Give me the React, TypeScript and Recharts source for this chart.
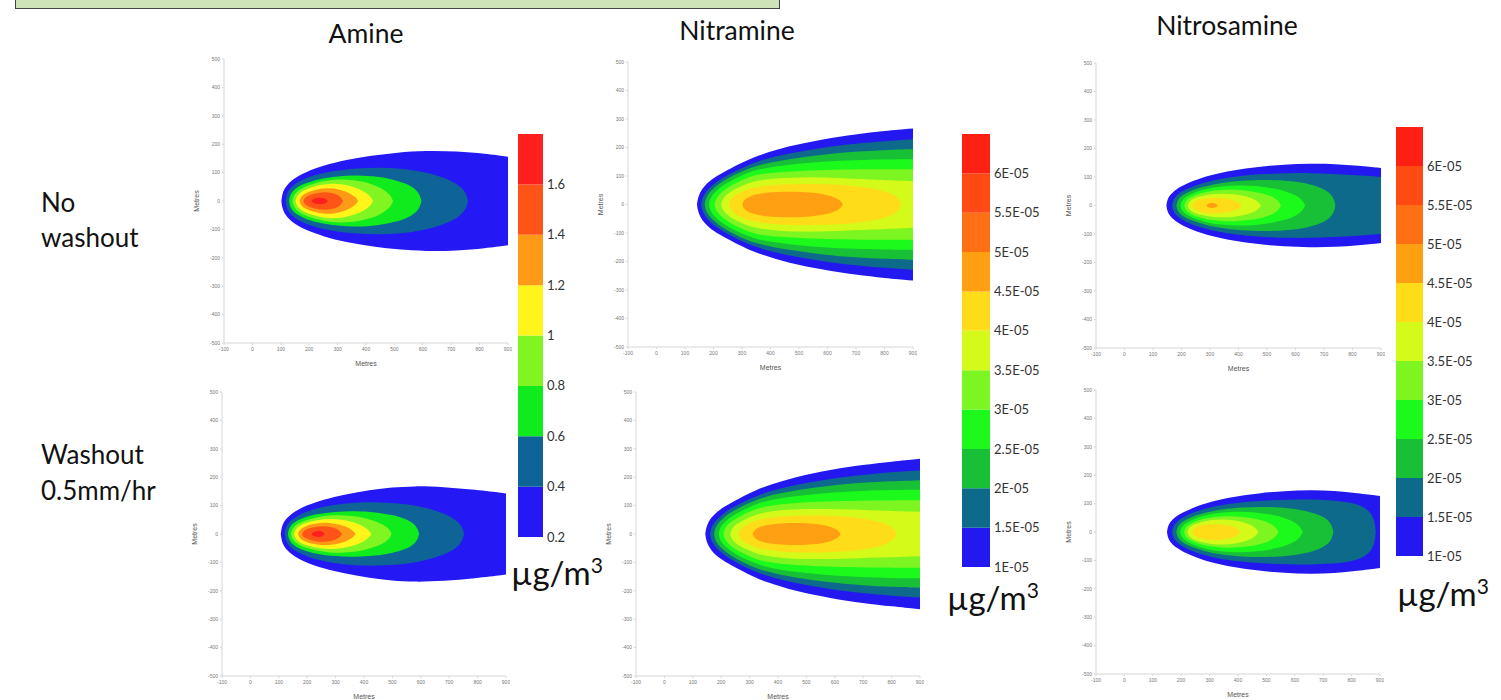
import React from 'react';
import { AreaChart, Area, XAxis, YAxis, ComposedChart, Bar } from 'recharts';

type Pt = [number, number];

// axis ticks (metres)
const xTicks = [-100, 0, 100, 200, 300, 400, 500, 600, 700, 800, 900];
const yTicks = [-500, -400, -300, -200, -100, 0, 100, 200, 300, 400, 500];

// colour scales
const amineLevels = [0.2, 0.4, 0.6, 0.8, 1.0, 1.2, 1.4, 1.6, 1.8];
const amineLabels = ['0.2', '0.4', '0.6', '0.8', '1', '1.2', '1.4', '1.6'];
const nitroLevels = [0.00001, 0.000015, 0.00002, 0.000025, 0.00003, 0.000035, 0.00004, 0.000045, 0.00005, 0.000055, 0.00006, 0.000065];
const nitroLabels = ['1E-05', '1.5E-05', '2E-05', '2.5E-05', '3E-05', '3.5E-05', '4E-05', '4.5E-05', '5E-05', '5.5E-05', '6E-05'];

const amineColors = ['#2418f5', '#0e6497', '#10eb1e', '#80f522', '#fff51a', '#ff9a16', '#ff5418', '#ff1f1f'];
const nitroColors = ['#2318f0', '#0e6a8a', '#18c036', '#1cfa1c', '#7cf520', '#d4fa1a', '#ffdc18', '#ffa012', '#ff7014', '#ff4a14', '#ff2014'];

// contour outlines: [distance downwind, half width], one list per level
const amineNoWash: Pt[][] = [
  [[102, 0], [105, 24], [112, 42], [125, 60], [150, 82], [190, 103], [250, 125], [330, 145], [420, 160], [510, 171], [610, 177], [720, 175], [820, 167], [900, 156]],
  [[117, 0], [120, 21], [127, 37], [140, 52], [165, 70], [210, 89], [280, 106], [370, 116], [460, 118], [540, 113], [610, 101], [670, 84], [715, 64], [742, 42], [755, 20], [759, 0]],
  [[129, 0], [132, 18], [139, 31], [152, 45], [180, 60], [230, 77], [300, 88], [370, 91], [440, 86], [500, 75], [545, 60], [575, 42], [590, 21], [595, 0]],
  [[141, 0], [144, 15], [151, 27], [164, 39], [190, 53], [230, 66], [280, 75], [330, 76], [380, 70], [420, 60], [455, 45], [478, 28], [490, 14], [495, 0]],
  [[152, 0], [155, 13], [162, 23], [175, 34], [200, 46], [240, 57], [280, 62], [320, 59], [355, 50], [385, 38], [405, 25], [418, 13], [425, 0]],
  [[166, 0], [169, 11], [176, 20], [190, 29], [215, 38], [250, 45], [285, 45], [315, 38], [340, 28], [358, 17], [368, 8], [372, 0]],
  [[180, 0], [183, 9], [191, 16], [205, 23], [230, 29], [255, 32], [280, 29], [300, 22], [312, 13], [319, 0]],
  [[208, 0], [212, 6], [222, 10], [237, 12], [252, 10], [261, 6], [266, 0]],
];

const amineWash: Pt[][] = [
  [[107, 0], [110, 24], [117, 41], [130, 58], [155, 79], [195, 100], [255, 121], [335, 140], [420, 155], [500, 164], [575, 169], [680, 166], [790, 156], [900, 143]],
  [[121, 0], [124, 20], [131, 35], [144, 50], [170, 67], [215, 86], [285, 102], [370, 111], [455, 112], [530, 108], [600, 97], [660, 81], [705, 62], [734, 41], [748, 20], [752, 0]],
  [[132, 0], [135, 17], [142, 29], [155, 42], [183, 56], [230, 70], [300, 79], [370, 81], [440, 77], [500, 67], [545, 54], [574, 38], [589, 19], [594, 0]],
  [[143, 0], [146, 14], [153, 25], [166, 36], [192, 48], [232, 59], [280, 66], [330, 66], [380, 61], [420, 52], [456, 39], [480, 25], [492, 12], [497, 0]],
  [[154, 0], [157, 12], [164, 22], [177, 32], [202, 42], [240, 50], [280, 54], [320, 51], [355, 44], [385, 34], [405, 22], [419, 11], [426, 0]],
  [[168, 0], [171, 10], [178, 18], [192, 27], [217, 35], [250, 40], [285, 39], [315, 33], [340, 25], [357, 15], [366, 7], [370, 0]],
  [[182, 0], [185, 8], [193, 14], [207, 20], [232, 26], [258, 28], [283, 25], [303, 19], [315, 11], [323, 0]],
  [[215, 0], [219, 6], [228, 9], [240, 11], [252, 9], [258, 5], [262, 0]],
];

const nitramineNoWash: Pt[][] = [
  [[142, 0], [145, 22], [152, 40], [163, 59], [190, 87], [233, 112], [290, 142], [350, 171], [467, 206], [584, 229], [701, 247], [800, 258], [900, 267]],
  [[157, 0], [160, 19], [167, 35], [182, 55], [210, 80], [260, 110], [350, 153], [467, 180], [584, 200], [701, 214], [800, 222], [900, 229]],
  [[169, 0], [172, 18], [179, 33], [194, 52], [225, 77], [275, 106], [350, 139], [467, 160], [584, 176], [701, 186], [800, 191], [900, 194]],
  [[184, 0], [187, 17], [194, 30], [209, 48], [240, 72], [290, 99], [350, 124], [467, 140], [584, 151], [701, 156], [800, 158], [900, 159]],
  [[204, 0], [207, 15], [214, 28], [229, 44], [260, 66], [300, 86], [350, 106], [430, 114], [520, 119], [620, 122], [750, 124], [900, 124]],
  [[227, 0], [230, 14], [237, 25], [252, 40], [280, 57], [310, 70], [350, 84], [430, 93], [520, 96], [620, 94], [750, 88], [900, 82]],
  [[254, 0], [257, 12], [264, 22], [280, 36], [310, 50], [350, 62], [430, 71], [550, 73], [650, 70], [740, 60], [800, 47], [832, 34], [850, 20], [859, 0]],
  [[301, 0], [305, 12], [315, 22], [335, 32], [370, 40], [420, 44], [480, 45], [540, 43], [590, 36], [625, 26], [645, 14], [654, 0]],
];

const nitramineWash: Pt[][] = [
  [[144, 0], [147, 22], [154, 40], [165, 58], [192, 85], [235, 110], [292, 140], [352, 168], [467, 203], [584, 226], [701, 244], [800, 255], [900, 265]],
  [[161, 0], [164, 19], [171, 34], [186, 53], [214, 78], [264, 107], [352, 148], [467, 175], [584, 195], [701, 209], [800, 218], [900, 224]],
  [[175, 0], [178, 18], [185, 32], [200, 50], [231, 75], [281, 102], [352, 133], [467, 155], [584, 171], [701, 181], [800, 186], [900, 189]],
  [[191, 0], [194, 16], [201, 29], [216, 46], [247, 69], [297, 94], [352, 117], [467, 135], [584, 146], [701, 152], [800, 155], [900, 156]],
  [[208, 0], [211, 15], [218, 27], [233, 42], [264, 62], [304, 81], [352, 98], [430, 107], [520, 113], [620, 116], [750, 118], [900, 119]],
  [[232, 0], [235, 13], [242, 24], [257, 37], [285, 53], [315, 65], [352, 77], [430, 86], [520, 89], [620, 88], [750, 83], [900, 78]],
  [[261, 0], [264, 11], [271, 20], [287, 33], [317, 46], [357, 56], [430, 64], [530, 66], [620, 63], [700, 55], [760, 43], [792, 30], [810, 16], [818, 0]],
  [[311, 0], [315, 11], [325, 20], [345, 28], [380, 35], [425, 38], [475, 39], [525, 37], [565, 31], [595, 22], [613, 12], [621, 0]],
];

const nitrosamineNoWash: Pt[][] = [
  [[147, 0], [150, 19], [157, 33], [170, 48], [195, 66], [240, 87], [300, 107], [380, 124], [470, 136], [560, 144], [650, 147], [740, 146], [820, 140], [900, 132]],
  [[167, 0], [170, 17], [177, 29], [190, 42], [215, 57], [260, 75], [320, 91], [400, 104], [490, 111], [580, 114], [650, 114], [730, 111], [820, 106], [900, 100]],
  [[182, 0], [185, 15], [192, 26], [205, 37], [230, 51], [275, 66], [335, 79], [410, 88], [500, 91], [580, 87], [640, 78], [690, 63], [720, 45], [735, 24], [740, 0]],
  [[196, 0], [199, 13], [206, 23], [219, 33], [244, 46], [285, 59], [340, 68], [400, 71], [460, 69], [520, 61], [570, 49], [605, 34], [625, 18], [634, 0]],
  [[210, 0], [213, 12], [220, 21], [233, 30], [258, 41], [295, 50], [340, 55], [390, 56], [440, 51], [490, 42], [520, 31], [540, 17], [549, 0]],
  [[222, 0], [225, 10], [232, 18], [245, 26], [270, 34], [305, 40], [345, 42], [385, 40], [420, 34], [450, 25], [468, 15], [479, 0]],
  [[237, 0], [240, 8], [247, 14], [260, 20], [285, 26], [315, 28], [345, 26], [372, 21], [392, 15], [405, 8], [412, 0]],
  [[287, 0], [292, 6], [300, 8], [310, 9], [318, 7], [324, 4], [327, 0]],
];

const nitrosamineWash: Pt[][] = [
  [[150, 0], [153, 19], [160, 33], [173, 48], [198, 65], [243, 86], [303, 107], [383, 124], [473, 137], [563, 144], [654, 148], [740, 145], [820, 137], [900, 127]],
  [[168, 0], [171, 17], [178, 29], [191, 42], [216, 58], [261, 76], [321, 92], [401, 104], [491, 111], [581, 114], [654, 115], [730, 112], [800, 104], [845, 88], [870, 65], [882, 35], [885, 0]],
  [[183, 0], [186, 15], [193, 26], [206, 37], [231, 51], [276, 66], [336, 79], [411, 87], [500, 89], [580, 85], [640, 75], [688, 60], [717, 43], [731, 23], [736, 0]],
  [[196, 0], [199, 13], [206, 23], [219, 33], [244, 46], [285, 60], [340, 69], [400, 72], [460, 70], [515, 62], [565, 50], [600, 35], [620, 18], [628, 0]],
  [[210, 0], [213, 12], [220, 21], [233, 30], [258, 41], [295, 50], [340, 55], [390, 56], [440, 51], [485, 42], [515, 30], [534, 16], [542, 0]],
  [[222, 0], [225, 11], [232, 19], [245, 27], [270, 35], [305, 43], [345, 45], [385, 42], [420, 35], [445, 26], [462, 15], [472, 0]],
  [[238, 0], [241, 9], [248, 15], [261, 21], [286, 27], [316, 29], [346, 27], [372, 22], [390, 16], [402, 8], [408, 0]],
];

const FONT = 'Lato, "Liberation Sans", sans-serif';
const AXIS_FONT = '"Liberation Sans", Arial, sans-serif';

// merge every level into one table keyed on x; each level is a [low, high] range
function buildRows(contours: Pt[][]) {
  const map = new Map<number, Record<string, any>>();
  contours.forEach((pts, i) => {
    pts.forEach(([x, h]) => {
      const row = map.get(x) ?? { x };
      row[`c${i}`] = [-h, h];
      map.set(x, row);
    });
  });
  return [...map.values()].sort((a, b) => a.x - b.x);
}

function ContourPanel({ left, top, size, contours, colors }: { left: number; top: number; size: number; contours: Pt[][]; colors: string[] }) {
  const rows = buildRows(contours);
  const yW = 36;
  const xH = 24;
  const pad = 4;
  const tick = { fontSize: 5, fill: '#777', fontFamily: AXIS_FONT };
  return (
    <div style={{ position: 'absolute', left: left - yW, top: top - pad }}>
      <AreaChart width={yW + size + pad} height={pad + size + xH} data={rows} margin={{ top: pad, right: pad, bottom: 0, left: 0 }}>
        <XAxis dataKey="x" type="number" domain={[-100, 900]} ticks={xTicks} interval={0} allowDataOverflow height={xH}
          tick={tick} tickSize={2} tickMargin={2} stroke="#d6d6d6"
          label={{ value: 'Metres', position: 'insideBottom', offset: 1, fontSize: 7, fill: '#555', fontFamily: AXIS_FONT }} />
        <XAxis xAxisId="top" orientation="top" type="number" domain={[-100, 900]} ticks={xTicks} interval={0} height={0}
          tick={false} tickSize={2} stroke="#d6d6d6" />
        <YAxis type="number" domain={[-500, 500]} ticks={yTicks} interval={0} allowDataOverflow width={yW}
          tick={tick} tickSize={2} tickMargin={2} stroke="#d6d6d6"
          label={{ value: 'Metres', angle: -90, position: 'center', dx: -9, fontSize: 7, fill: '#555', fontFamily: AXIS_FONT }} />
        <YAxis yAxisId="right" orientation="right" type="number" domain={[-500, 500]} ticks={yTicks} interval={0} width={0}
          tick={false} tickSize={2} stroke="#d6d6d6" />
        {contours.map((_, i) => (
          <Area key={i} dataKey={`c${i}`} type="basis" stroke="none" fill={colors[i]} fillOpacity={1}
            connectNulls dot={false} activeDot={false} isAnimationActive={false} />
        ))}
      </AreaChart>
    </div>
  );
}

function ColorBar({ left, top, width, height, levels, labels, colors }: { left: number; top: number; width: number; height: number; levels: number[]; labels: string[]; colors: string[] }) {
  const row: Record<string, any> = { name: 'scale', base: levels[0] };
  colors.forEach((_, i) => { row[`b${i}`] = levels[i + 1] - levels[i]; });
  const pad = 10;
  const axisW = 70;
  return (
    <div style={{ position: 'absolute', left, top: top - pad }}>
      <ComposedChart width={width + axisW} height={height + 2 * pad} data={[row]} margin={{ top: pad, bottom: pad, left: 0, right: 0 }} barCategoryGap={0}>
        <XAxis dataKey="name" type="category" hide />
        <YAxis orientation="right" type="number" domain={[levels[0], levels[levels.length - 1]]} allowDataOverflow
          ticks={levels.slice(0, labels.length)} interval={0} tickFormatter={(_v: number, i: number) => labels[i]}
          width={axisW} axisLine={false} tickLine={false} tickSize={0} tickMargin={4}
          tick={{ fontSize: 13, fill: '#333', fontFamily: FONT }} />
        <Bar dataKey="base" stackId="s" fill="none" isAnimationActive={false} />
        {colors.map((c, i) => (
          <Bar key={i} dataKey={`b${i}`} stackId="s" fill={c} isAnimationActive={false} />
        ))}
      </ComposedChart>
    </div>
  );
}

function Txt({ x, y, size, children, center }: { x: number; y: number; size: number; children: React.ReactNode; center?: boolean }) {
  return (
    <div style={{ position: 'absolute', left: x, top: y, fontSize: size, lineHeight: 1, whiteSpace: 'nowrap', color: '#111',
      transform: center ? 'translateX(-50%)' : undefined }}>
      {children}
    </div>
  );
}

function Unit({ x, y }: { x: number; y: number }) {
  return (
    <Txt x={x} y={y} size={33}>µg/m<span style={{ fontSize: 21, verticalAlign: 'top', position: 'relative', top: -2 }}>3</span></Txt>
  );
}

export default function App() {
  return (
    <div style={{ position: 'absolute', left: 0, top: 0, width: 1501, height: 700, overflow: 'hidden', background: '#fff', fontFamily: FONT }}>
      <div style={{ position: 'absolute', left: 15, top: -2, width: 763, height: 10, background: '#cfe3b8', border: '1.5px solid #444', borderTop: 'none' }} />

      <Txt x={366} y={20} size={26.5} center>Amine</Txt>
      <Txt x={737} y={17} size={26.5} center>Nitramine</Txt>
      <Txt x={1227} y={12} size={26.5} center>Nitrosamine</Txt>

      <Txt x={41} y={189} size={26}>No</Txt>
      <Txt x={41} y={224} size={26}>washout</Txt>
      <Txt x={41} y={441} size={26}>Washout</Txt>
      <Txt x={41} y={477} size={26}>0.5mm/hr</Txt>

      <ContourPanel left={224} top={59} size={284} contours={amineNoWash} colors={amineColors} />
      <ContourPanel left={222} top={392} size={284} contours={amineWash} colors={amineColors} />
      <ContourPanel left={628} top={62} size={285} contours={nitramineNoWash} colors={nitroColors} />
      <ContourPanel left={636} top={392} size={284} contours={nitramineWash} colors={nitroColors} />
      <ContourPanel left={1096} top={63} size={285} contours={nitrosamineNoWash} colors={nitroColors} />
      <ContourPanel left={1096} top={390} size={284} contours={nitrosamineWash} colors={nitroColors} />

      <ColorBar left={518} top={134} width={25} height={403} levels={amineLevels} labels={amineLabels} colors={amineColors} />
      <ColorBar left={962} top={134} width={28} height={433} levels={nitroLevels} labels={nitroLabels} colors={nitroColors} />
      <ColorBar left={1396} top={127} width={27} height={429} levels={nitroLevels} labels={nitroLabels} colors={nitroColors} />

      <Unit x={511} y={556} />
      <Unit x={947} y={581} />
      <Unit x={1397} y={577} />
    </div>
  );
}
